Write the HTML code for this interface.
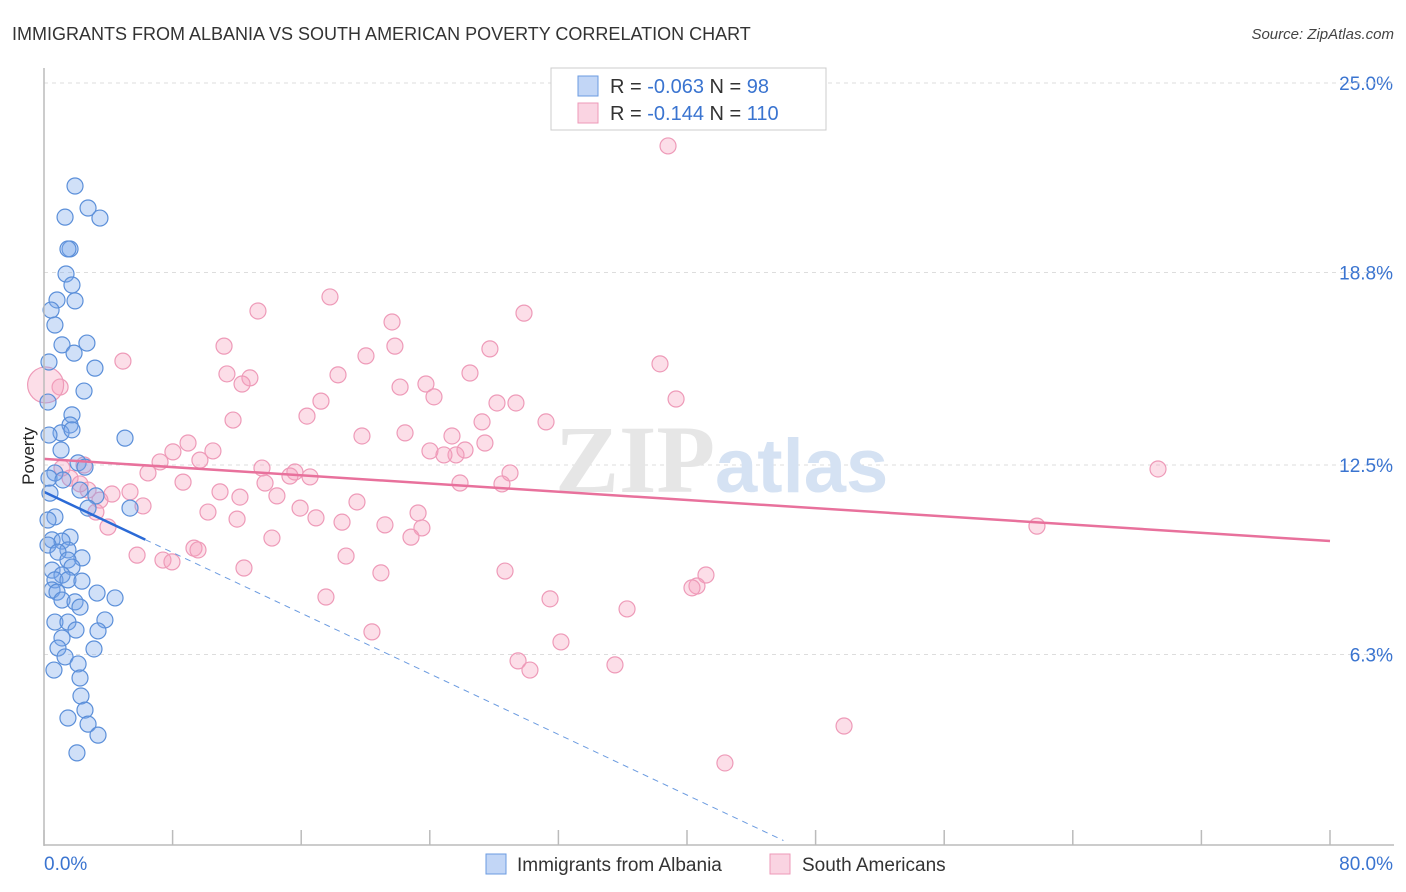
<!DOCTYPE html>
<html><head><meta charset="utf-8"><style>
body{margin:0;background:#fff;font-family:"Liberation Sans",sans-serif;}
</style></head><body>
<svg id="chart" width="1406" height="892" xmlns="http://www.w3.org/2000/svg" style="display:block">
<text x="12" y="40" font-size="18" fill="#333" font-family="Liberation Sans, sans-serif">IMMIGRANTS FROM ALBANIA VS SOUTH AMERICAN POVERTY CORRELATION CHART</text>
<text x="1394" y="39" font-size="15" fill="#444" text-anchor="end" font-style="italic">Source: ZipAtlas.com</text>
<g id="grid"></g>
<text x="555" y="492" font-size="96" fill="#e6e6e6" font-weight="bold" font-family="Liberation Serif, serif">ZIP</text>
<text x="715" y="492" font-size="76" fill="#d5e2f3" font-weight="bold">atlas</text>
<g id="pts"></g>
<g id="trends"></g>
<g id="axes"></g>
<text transform="translate(34,456) rotate(-90)" font-size="17" fill="#222" text-anchor="middle">Poverty</text>
<g>
<rect x="551" y="68" width="275" height="62" fill="#fff" stroke="#ccc"/>
<rect x="578" y="76" width="20" height="20" fill="rgba(120,165,235,0.45)" stroke="#6b9be0"/>
<rect x="578" y="103" width="20" height="20" fill="rgba(245,160,190,0.45)" stroke="#ee9ab8"/>
<text x="610" y="93" font-size="20" fill="#333">R = <tspan fill="#3a74d0">-0.063</tspan>   N =  <tspan fill="#3a74d0">98</tspan></text>
<text x="610" y="120" font-size="20" fill="#333">R =  <tspan fill="#3a74d0">-0.144</tspan>   N = <tspan fill="#3a74d0">110</tspan></text>
</g>
<g>
<rect x="486" y="854" width="20" height="20" fill="rgba(120,165,235,0.45)" stroke="#6b9be0"/>
<text x="517" y="871" font-size="19" fill="#333">Immigrants from Albania</text>
<rect x="770" y="854" width="20" height="20" fill="rgba(245,160,190,0.45)" stroke="#ee9ab8"/>
<text x="802" y="871" font-size="19" fill="#333">South Americans</text>
</g>
</svg>
<script>
const yTicks=[25.0,18.8,12.5,6.3];
const yTickLabels=["25.0%","18.8%","12.5%","6.3%"];
const xTickLabels=["0.0%","80.0%"];
const blueX=[1.93,1.31,2.74,3.48,1.62,1.49,1.37,1.74,0.81,1.93,0.44,0.68,2.67,1.12,1.87,0.31,3.17,2.49,0.25,1.74,1.62,1.06,0.31,1.74,5.04,1.06,2.12,2.55,0.68,0.31,1.18,2.24,0.37,3.23,2.74,5.35,0.68,0.25,1.62,0.5,1.12,0.25,1.49,0.87,2.36,1.49,1.74,0.5,1.12,0.68,1.49,2.36,0.5,0.81,1.12,1.93,4.42,2.24,3.3,0.68,1.49,3.79,1.99,3.36,1.12,0.87,3.11,1.31,2.12,0.62,2.24,2.3,2.55,1.49,2.74,3.36,2.05];
const blueY=[21.63,20.61,20.91,20.58,19.57,19.57,18.75,18.39,17.9,17.87,17.57,17.08,16.49,16.43,16.16,15.87,15.67,14.92,14.56,14.14,13.81,13.55,13.48,13.65,13.38,12.99,12.57,12.43,12.24,12.07,12.01,11.68,11.58,11.49,11.09,11.09,10.8,10.7,10.14,10.05,10.01,9.88,9.72,9.65,9.46,9.39,9.16,9.06,8.9,8.74,8.74,8.7,8.41,8.34,8.08,8.02,8.15,7.85,8.31,7.36,7.36,7.43,7.1,7.07,6.84,6.51,6.48,6.22,5.99,5.79,5.53,4.94,4.48,4.22,4.02,3.66,3.08];
const pinkX=[38.82,13.31,17.79,21.65,29.86,11.2,21.83,27.74,20.03,38.32,4.91,11.38,12.81,12.32,18.29,26.5,23.76,22.15,24.26,17.23,28.18,29.36,39.32,16.36,11.76,31.23,27.25,19.78,22.46,25.38,8.96,27.43,26.19,8.02,24.01,10.51,25.63,24.88,7.22,9.7,2.49,13.56,15.61,15.3,16.55,6.47,28.99,8.65,13.75,25.88,28.49,69.3,5.35,10.95,12.19,19.47,2.74,4.23,6.16,14.49,15.93,23.27,10.2,12.01,16.92,18.54,21.21,23.51,3.98,61.77,14.18,22.83,9.33,9.58,5.79,18.79,7.4,7.96,12.44,20.96,28.68,41.18,40.62,40.31,17.54,31.48,36.27,20.4,32.16,29.49,30.23,35.52,49.77,42.36,1.0,1.62,2.24,1.12,3.48,3.23];
const pinkY=[22.94,17.54,18.0,17.18,17.47,16.39,16.39,16.3,16.07,15.81,15.9,15.48,15.35,15.15,15.45,15.51,15.15,15.05,14.73,14.59,14.53,14.53,14.66,14.1,13.97,13.91,13.91,13.45,13.55,13.45,13.22,13.22,12.99,12.93,12.96,12.96,12.83,12.83,12.6,12.66,12.5,12.4,12.27,12.14,12.11,12.24,12.24,11.94,11.91,11.91,11.88,12.37,11.62,11.62,11.45,11.29,11.68,11.55,11.16,11.49,11.09,10.93,10.96,10.73,10.77,10.63,10.54,10.44,10.47,10.5,10.11,10.14,9.78,9.72,9.55,9.52,9.39,9.33,9.13,8.97,9.03,8.9,8.54,8.48,8.18,8.12,7.79,7.04,6.71,6.09,5.79,5.96,3.96,2.75,15.05,12.07,11.88,12.4,11.35,10.96];
const bigPink=[0.1,15.12];
const blueTrend=[11.62,-0.248];
const pinkTrend=[12.7,-0.0336];
const NS="http://www.w3.org/2000/svg";
const X0=44,X1=1330,Y0=847,PY=30.56;
const sx=v=>X0+(X1-X0)*v/80, sy=v=>Y0-v*PY;
function mk(t,a,p){const e=document.createElementNS(NS,t);for(const k in a)e.setAttribute(k,a[k]);p.appendChild(e);return e;}
const grid=document.getElementById('grid');
yTicks.forEach((t,i)=>{
 const l=mk('line',{x1:X0,x2:1394,y1:sy(t),y2:sy(t),stroke:'#ddd','stroke-dasharray':'4,4'},grid);
 
 
 const tx=mk('text',{x:1393,y:sy(t)+7,'font-size':19,fill:'#3a74d0','text-anchor':'end'},grid);
 tx.textContent=yTickLabels[i];
 
 
});
mk('line',{x1:X0,x2:1394,y1:83,y2:83,stroke:'#ddd','stroke-dasharray':'4,4'},grid);
const pts=document.getElementById('pts');
pinkX.forEach((v,i)=>{const c=mk('circle',{cx:sx(v),cy:sy(pinkY[i]),r:8,fill:'rgba(245,160,190,0.35)',stroke:'#ee9ab8','stroke-width':1.2},pts);
 
 });
const bp=mk('circle',{cx:sx(bigPink[0]),cy:sy(bigPink[1]),r:18,fill:'rgba(245,160,190,0.35)',stroke:'#ee9ab8','stroke-width':1.2},pts);


blueX.forEach((v,i)=>{const c=mk('circle',{cx:sx(v),cy:sy(blueY[i]),r:8,fill:'rgba(120,165,235,0.35)',stroke:'#5b8fd9','stroke-width':1.2},pts);
 
 });
const tr=document.getElementById('trends');
const bx1=6.3,bx2=46;
let l1=mk('line',{x1:sx(0),y1:sy(blueTrend[0]),x2:sx(bx1),y2:sy(blueTrend[0]+blueTrend[1]*bx1),stroke:'#2b6ad6','stroke-width':2.5},tr);


let l2=mk('line',{x1:sx(bx1),y1:sy(blueTrend[0]+blueTrend[1]*bx1),x2:sx(bx2),y2:sy(blueTrend[0]+blueTrend[1]*bx2),stroke:'#6b9be0','stroke-width':1,'stroke-dasharray':'6,5'},tr);


let l3=mk('line',{x1:sx(0),y1:sy(pinkTrend[0]),x2:sx(80),y2:sy(pinkTrend[0]+pinkTrend[1]*80),stroke:'#e8719c','stroke-width':2.5},tr);


const ax=document.getElementById('axes');
mk('line',{x1:X0,x2:X0,y1:68,y2:846,stroke:'#bbb','stroke-width':1.5},ax);
mk('line',{x1:X0,x2:1394,y1:845,y2:845,stroke:'#bbb','stroke-width':1.5},ax);
for(let i=0;i<=10;i++){mk('line',{x1:sx(i*8),x2:sx(i*8),y1:830,y2:845,stroke:'#bbb','stroke-width':1.5},ax);}
const t0=mk('text',{x:44,y:870,'font-size':19,fill:'#3a74d0'},ax);t0.textContent=xTickLabels[0];


const t1=mk('text',{x:1393,y:870,'font-size':19,fill:'#3a74d0','text-anchor':'end'},ax);t1.textContent=xTickLabels[1];


</script>
</body></html>
